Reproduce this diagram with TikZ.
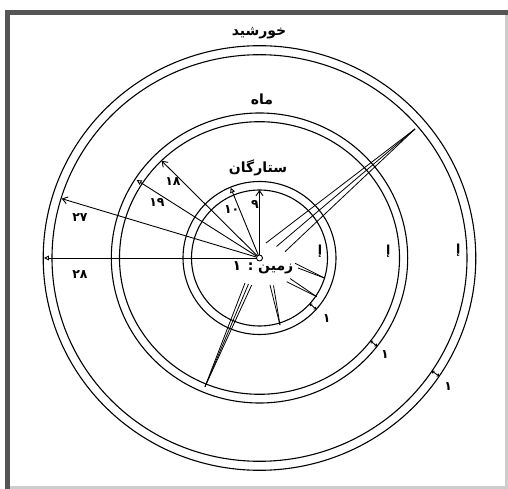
\documentclass[tikz,border=0pt]{standalone}
\usepackage{fontspec}
\TeXXeTstate=1
\newfontfamily\arabicfont[Script=Arabic]{DejaVu Sans}
\usetikzlibrary{arrows.meta}
\definecolor{framedark}{RGB}{85,85,85}
\definecolor{framelight}{RGB}{205,205,205}
\tikzset{
  ring/.style={line width=1.1pt, black},
  dimbarb/.style={line width=0.9pt, -{Straight Barb[length=5pt, width=7pt]}},
  dimtri/.style={line width=0.9pt, -{Triangle[open, length=5pt, width=5pt]}},
  ray/.style={line width=0.8pt},
  thick tick/.style={line width=0.9pt, {Straight Barb[length=1.5pt, width=3pt]}-{Straight Barb[length=1.5pt, width=3pt]}},
  earthdot/.style={circle, draw, line width=0.9pt, fill=white, minimum size=6pt, inner sep=0pt},
  title/.style={font=\arabicfont\bfseries\fontsize{14}{16}\selectfont, inner sep=1pt},
  num/.style={font=\arabicfont\bfseries\fontsize{12.5}{14}\selectfont, inner sep=1pt},
}

\begin{document}
\begin{tikzpicture}[x=1pt, y=1pt]
\useasboundingbox (-259.5,-231) rectangle (248.5,258);
% frame
\draw[framelight, line width=3pt] (-252,-229.5) -- (247,-229.5) -- (247,245.5);
\draw[framedark, line width=5pt] (-252,-231) -- (-252,245.5) -- (248.5,245.5);

% rings round the earth
\coordinate (c) at (0,0);
\foreach \rx/\ry in {216.3/212.3, 207.5/203.3, 148.2/145, 140/136.3, 76.5/76.5, 68/68}
  \draw[ring] (c) ellipse[x radius=\rx pt, y radius=\ry pt];

% wedges of sight
\coordinate (wa) at (155.5,129);
\coordinate (wb) at (-54.5,-128.7);
\coordinate (wc) at (65.5,-20.3);
\coordinate (wd) at (57.2,-38.7);
\coordinate (we) at (20.5,-67);
\foreach \p/\e in {wa/{(6.5,15)}, wa/{(17,11.5)}, wa/{(25.5,6.3)},
                   wb/{(-14.5,-25)}, wb/{(-11,-26)}, wb/{(-7.8,-27)},
                   wc/{(35.5,-5.3)}, wc/{(38.5,-10)},
                   wd/{(27.2,-23.7)}, wd/{(30.5,-20.5)},
                   we/{(10.5,-27)}, we/{(14,-27.5)}}
  \draw[ray] (\p) -- \e;

\node[earthdot] (earth) at (c) {};

% distances
\coordinate (t9) at (90:68);
\coordinate (t10) at (112.3:76);
\coordinate (t18) at (135.2:138);
\coordinate (t19) at (147.6:145.5);
\coordinate (t27) at (163.3:206.5);
\coordinate (t28) at (180:215.5);
\foreach \t in {9,18,27}
  \draw[dimbarb] (earth) -- (t\t);
\foreach \t in {10,19,28}
  \draw[dimtri] (earth) -- (t\t);

\foreach \lab/\x/\y [count=\i] in {۹/-4.5/53, ۱۰/-27.8/48, ۱۸/-86.5/76,
                                   ۱۹/-102.5/55, ۲۷/-179.5/40, ۲۸/-179.5/-17}
  \node[num] (num\i) at (\x,\y) {\lab};

% thickness of each ring
\coordinate (a1) at (-42.2:68);
\coordinate (b1) at (-42.2:76.5);
\coordinate (a2) at (-37.5:140 and 136.3);
\coordinate (b2) at (-37.5:148.2 and 145);
\coordinate (a3) at (-33.8:207.5 and 203.3);
\coordinate (b3) at (-33.8:216.3 and 212.3);
\foreach \i in {1,2,3}
  \draw[thick tick] (a\i) -- (b\i);
\node[num] (one1) at (67.2,-60.3) {۱};
\node[num] (one2) at (125.5,-97) {۱};
\node[num] (one3) at (188.8,-128.7) {۱};

\node[num] (mark1) at (60.5,6.3) {إ};
\node[num] (mark2) at (128.8,6.3) {إ};
\node[num] (mark3) at (198.8,8) {إ};

% names
\node[title] (sun) at (-0.5,225) {\beginR خورشید\endR};
\node[title] (moon) at (2.5,159) {\beginR ماه\endR};
\node[title] (stars) at (-1.5,90) {\beginR ستارگان\endR};
\node[title] (earthname) at (3.5,-10) {\beginR زمین : ۱\endR};
\end{tikzpicture}
\end{document}
